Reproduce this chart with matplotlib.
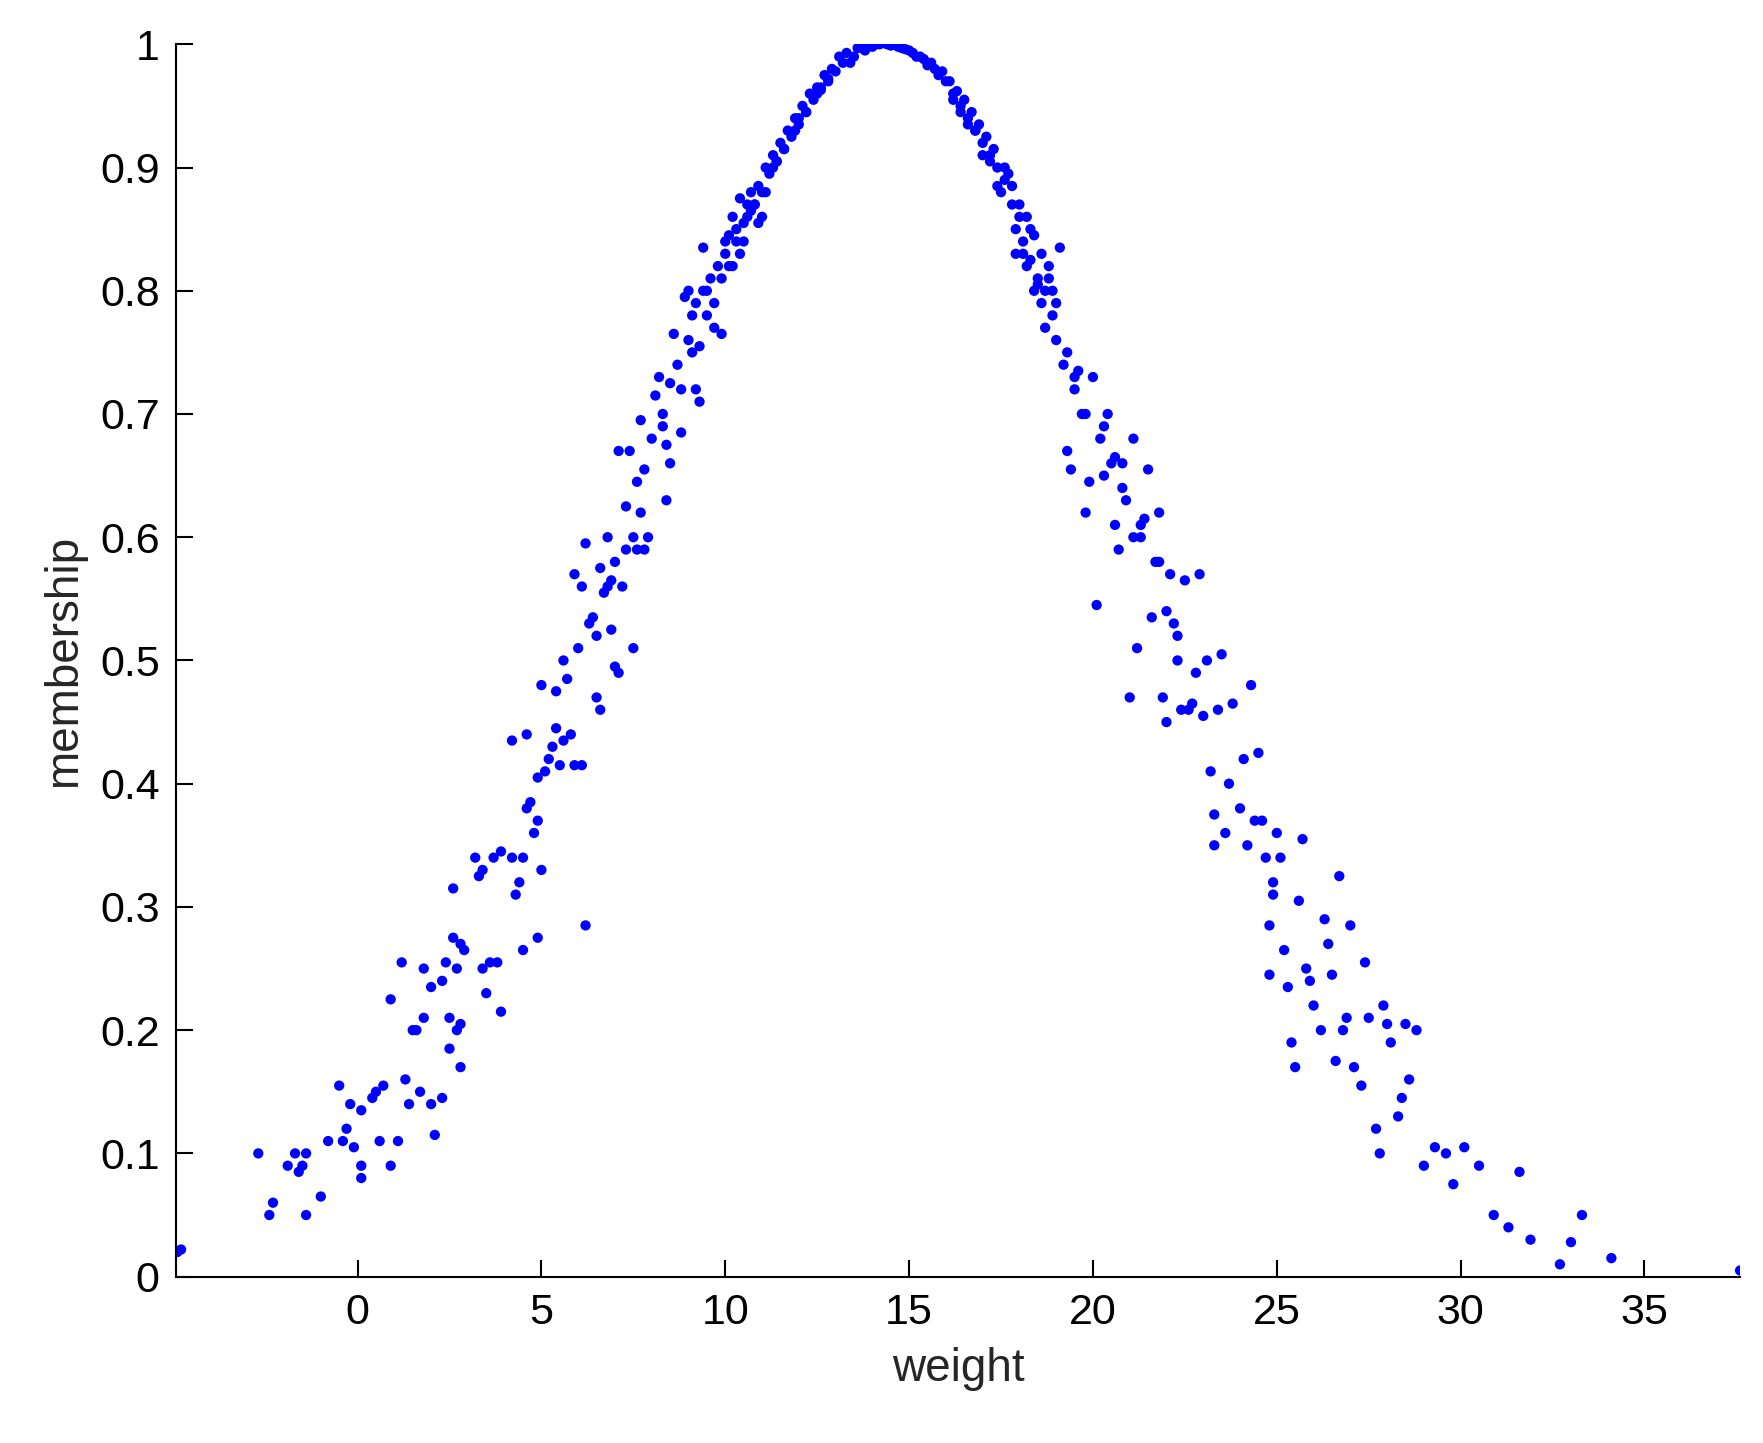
import matplotlib
matplotlib.use("Agg")
import matplotlib.pyplot as plt

weight = [-4.9,-4.8,-2.7,-2.4,-2.3,-1.9,-1.7,-1.6,-1.5,-1.4,-1.4,-1.0,-0.8,-0.5,-0.4,-0.3,-0.2,-0.1,0.1,0.1,0.1,0.4,0.5,0.6,0.7,0.9,0.9,1.1,1.2,1.3,1.4,1.5,1.6,1.7,1.8,1.8,2.0,2.0,2.1,2.3,2.3,2.4,2.5,2.5,2.6,2.6,2.7,2.7,2.8,2.8,2.8,2.9,3.2,3.3,3.4,3.4,3.5,3.6,3.7,3.8,3.9,3.9,4.2,4.2,4.3,4.4,4.5,4.5,4.6,4.6,4.7,4.8,4.9,4.9,4.9,5.0,5.0,5.1,5.2,5.3,5.4,5.4,5.5,5.6,5.6,5.7,5.8,5.9,5.9,6.0,6.1,6.1,6.2,6.2,6.3,6.4,6.5,6.5,6.6,6.6,6.7,6.8,6.9,6.9,7.0,7.0,7.1,7.1,7.2,7.3,7.3,7.4,7.5,7.5,7.6,7.7,7.7,7.8,7.8,7.9,8.0,8.1,8.2,8.3,8.3,8.4,8.5,8.5,8.6,8.7,8.8,8.8,9.0,9.0,9.1,9.2,9.3,9.3,9.4,9.4,9.5,9.6,9.7,9.8,9.9,10.0,10.1,10.2,10.3,10.4,10.5,10.6,10.7,10.9,11.0,11.1,11.3,11.5,11.7,11.9,12.1,12.3,12.5,12.7,12.9,13.1,13.3,13.6,13.9,14.2,
14.5,14.8,15.1,15.4,15.7,16.0,16.2,16.4,16.6,16.8,17.0,17.2,17.4,17.5,17.7,17.8,17.9,18.0,18.1,18.2,18.3,18.4,18.5,18.6,18.7,18.8,18.9,19.0,19.1,19.2,19.3,19.4,19.5,19.6,19.7,19.8,19.9,20.0,20.1,20.2,20.3,20.4,20.5,20.6,20.7,20.8,20.9,21.0,21.1,21.2,21.3,21.4,21.5,21.6,21.7,21.8,21.9,22.0,22.1,22.2,22.3,22.4,22.5,22.7,22.8,22.9,23.0,23.1,23.2,23.3,23.3,23.5,23.6,23.7,23.8,24.0,24.1,24.2,24.3,24.5,24.6,24.7,24.8,24.8,24.9,25.0,25.1,25.2,25.3,25.4,25.5,25.6,25.7,25.8,26.0,26.2,26.3,26.4,26.5,26.6,26.7,26.8,27.0,27.1,27.3,27.4,27.5,27.7,27.8,27.9,28.0,28.1,28.3,28.4,28.5,28.6,28.8,29.0,29.3,29.6,29.8,30.1,30.5,30.9,31.3,31.6,31.9,32.7,33.0,33.3,34.1,37.6,
8.9,9.1,9.5,9.7,9.9,10.1,10.3,10.5,10.7,10.8,11.0,11.2,11.4,11.6,11.8,12.0,12.2,12.4,12.6,12.8,13.0,13.2,13.5,13.8,14.0,14.4,14.7,15.0,15.3,15.6,15.9,16.1,16.3,16.5,16.7,16.9,17.1,17.3,17.6,17.8,18.0,18.2,18.4,18.6,18.8,19.0,
10.4,10.6,10.9,11.1,11.3,11.6,11.9,12.2,12.5,12.8,13.4,15.2,15.5,15.8,16.2,16.6,17.0,17.4,17.9,18.3,18.7,19.3,19.8,20.3,20.8,21.3,21.8,22.3,6.8,7.6,8.4,9.2,10.0,
10.2,10.8,11.4,12.0,12.6,13.7,14.1,14.9,16.4,16.8,17.2,17.6,18.1,18.5,18.9,19.5,20.6,21.1,22.0,22.6,23.4,24.4,24.9,25.9,26.9]
membership = [0.02,0.022,0.10,0.05,0.06,0.09,0.10,0.085,0.09,0.10,0.05,0.065,0.11,0.155,0.11,0.12,0.14,0.105,0.135,0.08,0.09,0.145,0.15,0.11,0.155,0.09,0.225,0.11,0.255,0.16,0.14,0.2,0.2,0.15,0.21,0.25,0.235,0.14,0.115,0.145,0.24,0.255,0.185,0.21,0.315,0.275,0.2,0.25,0.27,0.17,0.205,0.265,0.34,0.325,0.33,0.25,0.23,0.255,0.34,0.255,0.345,0.215,0.34,0.435,0.31,0.32,0.34,0.265,0.38,0.44,0.385,0.36,0.37,0.405,0.275,0.33,0.48,0.41,0.42,0.43,0.475,0.445,0.415,0.435,0.5,0.485,0.44,0.415,0.57,0.51,0.56,0.415,0.285,0.595,0.53,0.535,0.52,0.47,0.46,0.575,0.555,0.6,0.565,0.525,0.58,0.495,0.49,0.67,0.56,0.625,0.59,0.67,0.6,0.51,0.645,0.62,0.695,0.59,0.655,0.6,0.68,0.715,0.73,0.69,0.7,0.675,0.725,0.66,0.765,0.74,0.72,0.685,0.8,0.76,0.75,0.79,0.755,0.71,0.8,0.835,0.78,0.81,0.77,0.82,0.765,0.83,0.845,0.86,0.85,0.875,0.84,0.87,0.88,0.885,0.86,0.9,0.91,0.92,0.93,0.94,0.95,0.96,0.965,0.975,0.98,0.99,0.993,0.997,0.999,1.0,
0.999,0.997,0.993,0.988,0.98,0.97,0.96,0.95,0.94,0.93,0.92,0.91,0.9,0.88,0.895,0.87,0.83,0.86,0.84,0.82,0.85,0.8,0.81,0.79,0.77,0.82,0.8,0.76,0.835,0.74,0.67,0.655,0.72,0.735,0.7,0.62,0.645,0.73,0.545,0.68,0.65,0.7,0.66,0.61,0.59,0.64,0.63,0.47,0.68,0.51,0.6,0.615,0.655,0.535,0.58,0.62,0.47,0.45,0.57,0.53,0.52,0.46,0.565,0.465,0.49,0.57,0.455,0.5,0.41,0.375,0.35,0.505,0.36,0.4,0.465,0.38,0.42,0.35,0.48,0.425,0.37,0.34,0.285,0.245,0.32,0.36,0.34,0.265,0.235,0.19,0.17,0.305,0.355,0.25,0.22,0.2,0.29,0.27,0.245,0.175,0.325,0.2,0.285,0.17,0.155,0.255,0.21,0.12,0.1,0.22,0.205,0.19,0.13,0.145,0.205,0.16,0.2,0.09,0.105,0.1,0.075,0.105,0.09,0.05,0.04,0.085,0.03,0.01,0.028,0.05,0.015,0.005,
0.795,0.78,0.8,0.79,0.81,0.82,0.84,0.855,0.865,0.87,0.88,0.895,0.905,0.915,0.925,0.935,0.945,0.955,0.963,0.972,0.978,0.985,0.99,0.995,0.998,1.0,0.998,0.995,0.99,0.985,0.978,0.97,0.962,0.955,0.945,0.935,0.925,0.915,0.9,0.885,0.87,0.86,0.845,0.83,0.81,0.79,
0.83,0.86,0.855,0.88,0.9,0.915,0.93,0.945,0.96,0.97,0.985,0.99,0.983,0.975,0.955,0.935,0.91,0.885,0.85,0.825,0.8,0.75,0.7,0.69,0.66,0.61,0.58,0.5,0.56,0.59,0.63,0.72,0.84,
0.82,0.87,0.905,0.94,0.965,0.997,1.0,0.996,0.945,0.93,0.905,0.89,0.83,0.805,0.78,0.73,0.665,0.6,0.54,0.46,0.46,0.37,0.31,0.24,0.21]

plt.rcParams['font.family'] = ['Liberation Sans', 'DejaVu Sans']
fig = plt.figure(figsize=(17.63, 14.43), dpi=100)
ax = fig.add_axes([0.100, 0.1153, 0.887, 0.854])
ax.scatter(weight, membership, s=55, color='#0000ff', edgecolors='none')
ax.set_xlim(-4.93, 37.6)
ax.set_ylim(0, 1)
ax.set_xticks(range(0, 36, 5))
ax.set_yticks([i/10 for i in range(11)])
ax.set_yticklabels(['0'] + [f'0.{i}' for i in range(1, 10)] + ['1'])
ax.tick_params(direction='in', length=12, width=1.5, labelsize=31, pad=12)
for s in ['top', 'right']:
    ax.spines[s].set_visible(False)
for s in ['left', 'bottom']:
    ax.spines[s].set_linewidth(1.5)
ax.set_xlabel('weight', fontsize=33, color='#262626', labelpad=10)
ax.set_ylabel('membership', fontsize=33, color='#262626', labelpad=10)
fig.savefig('out.png', dpi=100)
